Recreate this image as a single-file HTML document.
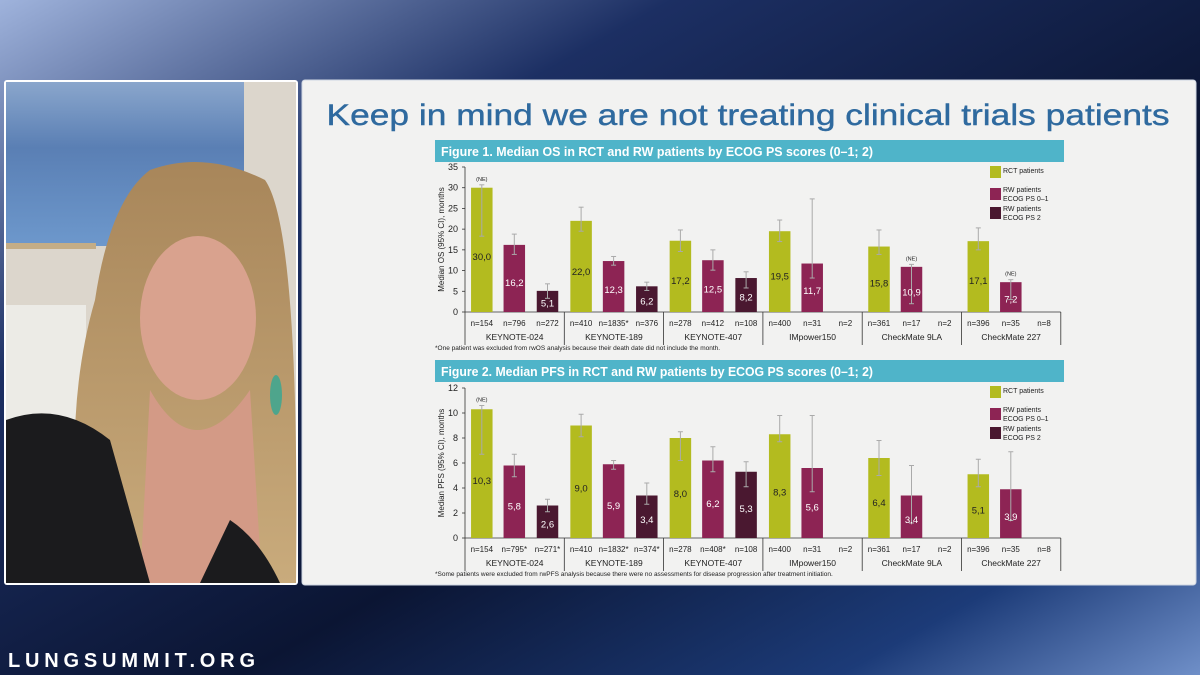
<!DOCTYPE html>
<html><head><meta charset="utf-8"><style>
html,body{margin:0;padding:0;width:1200px;height:675px;overflow:hidden;background:#0c1836;}
svg{display:block;font-family:"Liberation Sans",Arial,sans-serif;}
</style></head><body>
<svg id="s" width="1200" height="675" viewBox="0 0 1200 675">
<defs>
<linearGradient id="bg" x1="0" y1="0" x2="1" y2="1">
<stop offset="0" stop-color="#9fb3dc"/><stop offset="0.28" stop-color="#1c2f63"/><stop offset="0.6" stop-color="#0b1533"/><stop offset="0.85" stop-color="#1c3b78"/><stop offset="1" stop-color="#6f8fc8"/>
</linearGradient>
<linearGradient id="sky" x1="0" y1="0" x2="0" y2="1"><stop offset="0" stop-color="#8aa6cc"/><stop offset="0.4" stop-color="#5a7fb4"/><stop offset="1" stop-color="#6d98cc"/></linearGradient>
<linearGradient id="hair" x1="0" y1="0" x2="0" y2="1"><stop offset="0" stop-color="#a8865a"/><stop offset="1" stop-color="#c9ab7c"/></linearGradient>
</defs>
<rect width="1200" height="675" fill="url(#bg)"/>
<g>
<rect x="4" y="80" width="294" height="505" fill="#ffffff" rx="3"/>
<rect x="6" y="82" width="290" height="501" fill="#dcd6cc"/>
<rect x="6" y="82" width="238" height="164" fill="url(#sky)"/>
<rect x="6" y="243" width="90" height="6" fill="#c4ad86"/>
<rect x="6" y="305" width="80" height="130" fill="#ecebe6"/>
<path d="M150 170 Q205 150 265 180 Q300 230 296 583 L85 583 Q60 420 95 300 Q110 200 150 170Z" fill="url(#hair)"/>
<ellipse cx="198" cy="318" rx="58" ry="82" fill="#d9a28e"/>
<path d="M150 390 Q195 470 250 390 L262 583 L140 583Z" fill="#d39a86"/>
<path d="M6 420 Q60 400 110 440 L150 583 L6 583Z" fill="#1b1b1d"/>
<path d="M230 520 Q260 540 280 583 L200 583Z" fill="#1b1b1d"/>
<ellipse cx="276" cy="395" rx="6" ry="20" fill="#4ea58c"/>
</g>
<rect x="302" y="80" width="894" height="505" fill="#f2f2f1" stroke="#cfd6e2" rx="3"/>
<text x="748" y="125" text-anchor="middle" font-size="30" fill="#2f6a9f" stroke="#2f6a9f" stroke-width="0.4" textLength="843" lengthAdjust="spacingAndGlyphs">Keep in mind we are not treating clinical trials patients</text>
<text x="8" y="667" font-size="20" font-weight="bold" fill="#ffffff" textLength="247" lengthAdjust="spacing">LUNGSUMMIT.ORG</text>
<g id="charts"></g>
</svg>
<script>
const groups = ["KEYNOTE-024","KEYNOTE-189","KEYNOTE-407","IMpower150","CheckMate 9LA","CheckMate 227"];
const osN = [["n=154","n=796","n=272"],["n=410","n=1835*","n=376"],["n=278","n=412","n=108"],["n=400","n=31","n=2"],["n=361","n=17","n=2"],["n=396","n=35","n=8"]];
const pfsN = [["n=154","n=795*","n=271*"],["n=410","n=1832*","n=374*"],["n=278","n=408*","n=108"],["n=400","n=31","n=2"],["n=361","n=17","n=2"],["n=396","n=35","n=8"]];
const osVal = [[30.0,16.2,5.1],[22.0,12.3,6.2],[17.2,12.5,8.2],[19.5,11.7,null],[15.8,10.9,null],[17.1,7.2,null]];
const osLo = [[18.3,13.9,3.3],[19.5,11.3,5.2],[14.6,10.1,5.8],[17.0,8.2,null],[13.9,2.0,null],[15.0,3.0,null]];
const osHi = [[30.7,18.8,6.8],[25.3,13.4,7.2],[19.8,15.0,9.7],[22.2,27.3,null],[19.8,11.5,null],[20.3,7.8,null]];
const osNE = [[true,false,false],[false,false,false],[false,false,false],[false,false,false],[false,true,false],[false,true,false]];
const pfsVal = [[10.3,5.8,2.6],[9.0,5.9,3.4],[8.0,6.2,5.3],[8.3,5.6,null],[6.4,3.4,null],[5.1,3.9,null]];
const pfsLo = [[6.7,4.9,2.1],[8.1,5.5,2.7],[6.2,5.3,4.1],[7.7,3.7,null],[5.0,1.2,null],[4.1,1.4,null]];
const pfsHi = [[10.6,6.7,3.1],[9.9,6.2,4.4],[8.5,7.3,6.1],[9.8,9.8,null],[7.8,5.8,null],[6.3,6.9,null]];
const pfsNE = [[true,false,false],[false,false,false],[false,false,false],[false,false,false],[false,false,false],[false,false,false]];
const osTicks = [0,5,10,15,20,25,30,35];
const pfsTicks = [0,2,4,6,8,10,12];

const NS="http://www.w3.org/2000/svg";
const root=document.getElementById('charts');
const colors=["#b3bb1f","#8d2454","#4a1830"];
function mk(tag,attrs,parent,text){const e=document.createElementNS(NS,tag);for(const k in attrs)e.setAttribute(k,attrs[k]);if(text!==undefined)e.textContent=text;(parent||root).appendChild(e);return e;}
function fmt(v){return v.toFixed(1).replace('.',',');}

function chart(cfg){
  const g=mk('g',{});
  
  
  const h=mk('rect',{x:435,y:cfg.top,width:629,height:22,fill:"#4fb4c9"},g);
  
  
  const ht=mk('text',{x:441,y:cfg.top+16,'font-size':13,'font-weight':'bold',fill:'#fff',textLength:432,lengthAdjust:'spacingAndGlyphs'},g,cfg.title);
  
  
  const x0=465,gw=99.3,offs=[16.8,49.3,82.5],bw=21.5;
  const y0=cfg.y0,ppu=cfg.ppu,max=cfg.ticks[cfg.ticks.length-1];
  const Y=v=>y0-v*ppu;
  const ax=mk('line',{x1:x0,y1:Y(max),x2:x0,y2:y0,stroke:'#333','stroke-width':0.8},g);
  
  
  const xl=mk('line',{x1:x0,y1:y0,x2:x0+gw*6,y2:y0,stroke:'#333','stroke-width':0.8},g);
  
  
  cfg.ticks.forEach(t=>{
    mk('line',{x1:x0-3,y1:Y(t),x2:x0,y2:Y(t),stroke:'#333','stroke-width':0.8},g);
    const tl=mk('text',{x:x0-7,y:Y(t)+3,'font-size':9,'text-anchor':'end',fill:'#222'},g,String(t));
    
    
  });
  const yt=mk('text',{x:0,y:0,'font-size':8,'text-anchor':'middle',fill:'#222',transform:`translate(444 ${(Y(max)+y0)/2}) rotate(-90)`},g,cfg.ytitle);
  
  
  for(let i=0;i<=6;i++){
    mk('line',{x1:x0+gw*i,y1:y0,x2:x0+gw*i,y2:y0+33,stroke:'#333','stroke-width':0.8},g);
  }
  groups.forEach((name,gi)=>{
    const gl=mk('text',{x:x0+gw*gi+gw/2,y:y0+28,'font-size':8.5,'text-anchor':'middle',fill:'#222'},g,name);
    
    
    for(let s=0;s<3;s++){
      const cx=x0+gw*gi+offs[s];
      const nl=mk('text',{x:cx,y:y0+14,'font-size':8,'text-anchor':'middle',fill:'#222'},g,cfg.n[gi][s]);
      
      
      const v=cfg.val[gi][s];
      if(v===null) continue;
      const b=mk('rect',{x:cx-bw/2,y:Y(v),width:bw,height:v*ppu,fill:colors[s]},g);
      
      
      const lo=cfg.lo[gi][s],hi=cfg.hi[gi][s];
      mk('line',{x1:cx,y1:Y(lo),x2:cx,y2:Y(hi),stroke:'#aaa','stroke-width':1},g);
      mk('line',{x1:cx-2.5,y1:Y(lo),x2:cx+2.5,y2:Y(lo),stroke:'#aaa','stroke-width':1},g);
      mk('line',{x1:cx-2.5,y1:Y(hi),x2:cx+2.5,y2:Y(hi),stroke:'#aaa','stroke-width':1},g);
      const vl=mk('text',{x:cx,y:Y(v*0.45)+4,'font-size':9.5,'text-anchor':'middle',fill:s===0?'#222':'#fff'},g,fmt(v));
      
      
      if(cfg.ne[gi][s]){
        const ne=mk('text',{x:cx,y:Y(Math.max(v,hi))-4,'font-size':5.5,'text-anchor':'middle',fill:'#222'},g,'(NE)');
        
        
      }
    }
  });
  const lg=mk('g',{},g);
  
  
  const items=[["RCT patients"],["RW patients","ECOG PS 0–1"],["RW patients","ECOG PS 2"]];
  const ly=[cfg.top+26,cfg.top+48,cfg.top+67];
  items.forEach((it,i)=>{
    mk('rect',{x:990,y:ly[i],width:11,height:12,fill:colors[i]},lg);
    it.forEach((t,j)=>{mk('text',{x:1003,y:ly[i]+(it.length===1?7:4)+j*9,'font-size':7,fill:'#222'},lg,t);});
  });
  const fn=mk('text',{x:435,y:cfg.top+(cfg.foot),'font-size':6.5,fill:'#222'},g,cfg.footnote);
  
  
}
chart({name:'os-chart',top:140,title:'Figure 1. Median OS in RCT and RW patients by ECOG PS scores (0–1; 2)',y0:312,ppu:4.143,ticks:osTicks,ytitle:'Median OS (95% CI), months',n:osN,val:osVal,lo:osLo,hi:osHi,ne:osNE,foot:210,footnote:'*One patient was excluded from rwOS analysis because their death date did not include the month.'});
chart({name:'pfs-chart',top:360,title:'Figure 2. Median PFS in RCT and RW patients by ECOG PS scores (0–1; 2)',y0:538,ppu:12.5,ticks:pfsTicks,ytitle:'Median PFS (95% CI), months',n:pfsN,val:pfsVal,lo:pfsLo,hi:pfsHi,ne:pfsNE,foot:216,footnote:'*Some patients were excluded from rwPFS analysis because there were no assessments for disease progression after treatment initiation.'});
</script>
</body></html>
